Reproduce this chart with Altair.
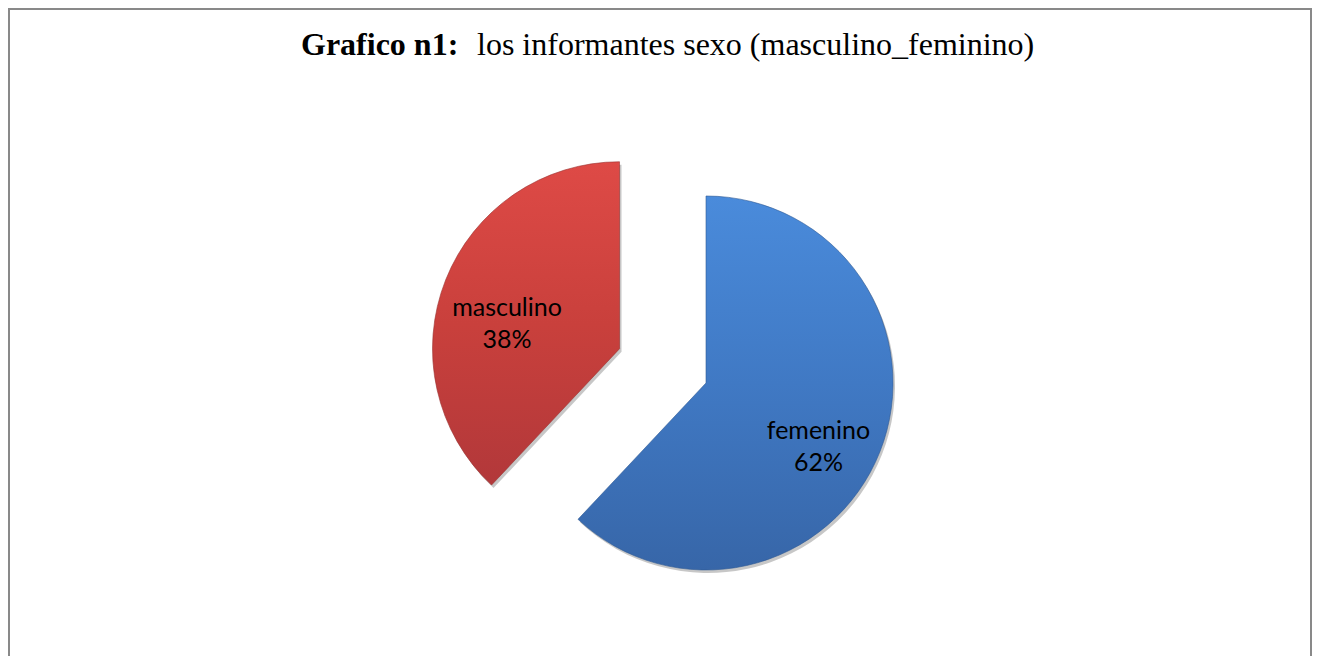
import altair as alt
import pandas as pd

# ---- data ----
categories = ["femenino", "masculino"]
values = [62, 38]

df = pd.DataFrame({"cat": categories, "value": values})
df["start"] = df["value"].cumsum() - df["value"]
df["end"] = df["value"].cumsum()

# ---- layout constants ----
W, H = 1304, 648
CX, CY = 698, 375
R = 187
EXPLODE_MASC = 93
LABEL_K = 0.647
LABEL_DY = 3.6

base = (
    alt.Chart(df)
    .transform_joinaggregate(total="sum(value)")
    .transform_calculate(
        a0="2*PI*datum.start/datum.total",
        a1="2*PI*datum.end/datum.total",
    )
    .transform_calculate(mid="(datum.a0+datum.a1)/2")
    .transform_calculate(ex=f"datum.cat == 'masculino' ? {EXPLODE_MASC} : 0")
    .transform_calculate(
        cx=f"{CX} + datum.ex*sin(datum.mid)",
        cy=f"{CY} - datum.ex*cos(datum.mid)",
    )
    .transform_calculate(
        sx="datum.cx + 2",
        sy="datum.cy + 3",
        lx=f"datum.cx + {LABEL_K}*{R}*sin(datum.mid)",
        ly=f"datum.cy - {LABEL_K}*{R}*cos(datum.mid) + {LABEL_DY}",
        label="datum.cat + '\\n' + datum.value + '%'",
    )
)

arc_enc = dict(
    theta=alt.Theta("a0:Q", scale=None),
    theta2="a1:Q",
    x=alt.X("cx:Q", scale=None, axis=None),
    y=alt.Y("cy:Q", scale=None, axis=None),
)

shadow = base.mark_arc(radius=R, fill="#000000", opacity=0.22).encode(
    theta=alt.Theta("a0:Q", scale=None),
    theta2="a1:Q",
    x=alt.X("sx:Q", scale=None, axis=None),
    y=alt.Y("sy:Q", scale=None, axis=None),
)

red_grad = alt.Gradient(
    gradient="linear",
    stops=[
        alt.GradientStop(color="#DE4A46", offset=0),
        alt.GradientStop(color="#C9403C", offset=0.5),
        alt.GradientStop(color="#B2383A", offset=1),
    ],
    x1=0, x2=0, y1=0, y2=1,
)
blue_grad = alt.Gradient(
    gradient="linear",
    stops=[
        alt.GradientStop(color="#4A8BDB", offset=0),
        alt.GradientStop(color="#4079C4", offset=0.5),
        alt.GradientStop(color="#3766A8", offset=1),
    ],
    x1=0, x2=0, y1=0, y2=1,
)

masc = base.transform_filter("datum.cat == 'masculino'").mark_arc(
    radius=R, fill=red_grad, stroke="#9A302E", strokeWidth=1, strokeOpacity=0.6
).encode(**arc_enc)

fem = base.transform_filter("datum.cat == 'femenino'").mark_arc(
    radius=R, fill=blue_grad, stroke="#2F5A94", strokeWidth=1, strokeOpacity=0.6
).encode(**arc_enc)

labels = base.mark_text(
    font="Lato", fontSize=25, lineBreak="\n", lineHeight=32,
    align="center", baseline="middle", color="#000000",
).encode(
    x=alt.X("lx:Q", scale=None, axis=None),
    y=alt.Y("ly:Q", scale=None, axis=None),
    text="label:N",
)

title_bold = alt.Chart(alt.Data(values=[{"t": "Grafico n1:"}])).mark_text(
    font="Liberation Serif", fontSize=32, fontWeight="bold",
    align="left", baseline="alphabetic", color="#000000",
).encode(x=alt.value(293), y=alt.value(47), text="t:N")

title_rest = alt.Chart(
    alt.Data(values=[{"t": "los informantes sexo (masculino_feminino)"}])
).mark_text(
    font="Liberation Serif", fontSize=32,
    align="left", baseline="alphabetic", color="#000000",
).encode(x=alt.value(469), y=alt.value(47), text="t:N")

border_data = alt.Data(values=[{}])
left_rule = alt.Chart(border_data).mark_rule(color="#898989", strokeWidth=2).encode(
    x=alt.value(1), y=alt.value(0), y2=alt.value(H)
)
right_rule = alt.Chart(border_data).mark_rule(color="#898989", strokeWidth=2).encode(
    x=alt.value(W - 1), y=alt.value(0), y2=alt.value(H)
)
top_rule = alt.Chart(border_data).mark_rule(color="#898989", strokeWidth=2).encode(
    x=alt.value(0), x2=alt.value(W), y=alt.value(1)
)

chart = (
    alt.layer(shadow, masc, fem, labels, title_bold, title_rest,
              left_rule, right_rule, top_rule)
    .properties(width=W, height=H, padding=0, autosize="none", background="white")
    .configure_view(strokeWidth=0)
)

chart.save("out.html", embed_options={"renderer": "svg", "actions": False})
